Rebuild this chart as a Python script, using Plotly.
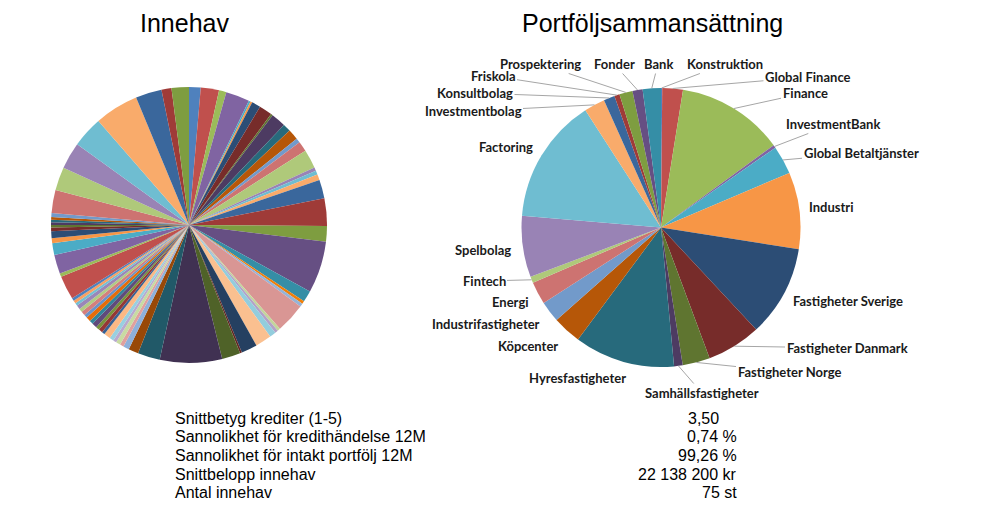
import math
import plotly.graph_objects as go

# ---------------- data ----------------
# Innehav: 75 holdings, share of portfolio in percent (clockwise from 12 o'clock)
holding_share = [
    1.36, 2.14, 0.86, 2.78, 0.22, 0.22, 1.03, 1.53, 0.22, 1.72,
    0.92, 1.25, 0.53, 1.19, 2.19, 0.42, 0.47, 0.67, 2.17, 3.22,
    1.83, 6.06, 1.33, 0.33, 0.39, 3.50, 0.33, 0.36, 0.75, 1.89,
    1.86, 0.22, 2.17, 7.28, 2.61, 1.17, 0.69, 0.44, 0.53, 0.39,
    0.50, 0.75, 0.36, 0.47, 0.42, 0.58, 0.44, 0.53, 0.39, 0.50,
    0.42, 0.47, 0.33, 0.36, 0.33, 2.78, 0.42, 2.22, 1.39, 0.56,
    0.83, 0.42, 0.28, 0.33, 0.28, 0.33, 0.47, 2.67, 2.75, 3.14,
    3.64, 5.14, 3.06, 1.17, 2.03,
]
holding_names = [f"Innehav {i + 1}" for i in range(len(holding_share))]

# Portföljsammansättning: sector shares in percent (clockwise from 12 o'clock)
sector_names = [
    "Konstruktion", "Global Finance", "Finance", "InvestmentBank",
    "Global Betaltjänster", "Industri", "Fastigheter Sverige",
    "Fastigheter Danmark", "Fastigheter Norge", "Samhällsfastigheter",
    "Hyresfastigheter", "Köpcenter", "Industrifastigheter", "Energi",
    "Fintech", "Spelbolag", "Factoring", "Investmentbolag", "Konsultbolag",
    "Friskola", "Prospektering", "Fonder", "Bank",
]
sector_share = [
    0.14, 2.39, 12.44, 0.33, 3.31, 8.89, 10.56, 6.28, 3.17, 1.00,
    11.64, 3.33, 2.44, 2.61, 0.72, 7.11, 14.53, 2.42, 1.28, 0.61,
    1.53, 1.17, 2.11,
]

stat_labels = [
    "Snittbetyg krediter (1-5)",
    "Sannolikhet för kredithändelse 12M",
    "Sannolikhet för intakt portfölj 12M",
    "Snittbelopp innehav",
    "Antal innehav",
]
stat_values = ["3,50\u00a0\u00a0\u00a0\u00a0", "0,74 %", "99,26 %", "22 138 200 kr", "75 st"]

# ---------------- styles ----------------
palette = [
    "#4F81BD", "#C0504D", "#9BBB59", "#8064A2", "#4BACC6", "#F79646",
    "#2C4D75", "#772C2A", "#5F7530", "#4D3B62", "#276A7C", "#B65708",
    "#729ACA", "#CD7371", "#AFC97A", "#9983B5", "#6FBDD1", "#F9AB6B",
    "#3A679C", "#9F3B38", "#7E9D40", "#664F83", "#358EA6", "#F07F09",
    "#95B3D7", "#D99694", "#C3D69B", "#B3A2C7", "#93CDDD", "#FAC090",
    "#254061", "#632523", "#4F6228", "#403152", "#215968", "#984807",
    "#8EB0DA", "#E0A09E", "#C8DBA2", "#B9A9CE", "#98D0E0", "#FBB985",
    "#376092", "#953735", "#77933C", "#604A7B", "#31859C", "#E46C0A",
    "#6A93C9", "#D47F7D", "#B2CB84", "#9A86B8", "#74BFD3", "#F8A062",
]
holding_colors = [palette[i % len(palette)] for i in range(len(holding_share))]
sector_colors = [palette[i % len(palette)] for i in range(len(sector_share))]

W, H = 1000, 527
LEFT_C, LEFT_R = (189.0, 225.0), 138.0
RIGHT_C, RIGHT_R = (661.0, 227.5), 139.5


def domain(c, r):
    return dict(x=[(c[0] - r) / W, (c[0] + r) / W],
                y=[1 - (c[1] + r) / H, 1 - (c[1] - r) / H])


fig = go.Figure()
fig.add_trace(go.Pie(
    labels=holding_names, values=holding_share, sort=False,
    direction="clockwise", rotation=0,
    marker=dict(colors=holding_colors, line=dict(width=0)),
    textinfo="none", showlegend=False, domain=domain(LEFT_C, LEFT_R),
))
fig.add_trace(go.Pie(
    labels=sector_names, values=sector_share, sort=False,
    direction="clockwise", rotation=0,
    marker=dict(colors=sector_colors, line=dict(width=0)),
    textinfo="none", showlegend=False, domain=domain(RIGHT_C, RIGHT_R),
))

# label placement (pixel centre of text, leader line?)
label_layout = {
    "Konstruktion": (725, 64, True),
    "Global Finance": (808, 77, True),
    "Finance": (805, 93, True),
    "InvestmentBank": (833, 124, True),
    "Global Betaltjänster": (861, 153, True),
    "Industri": (831, 207, False),
    "Fastigheter Sverige": (848, 301, False),
    "Fastigheter Danmark": (847, 348, True),
    "Fastigheter Norge": (789, 372, True),
    "Samhällsfastigheter": (702, 393, True),
    "Hyresfastigheter": (577, 378, False),
    "Köpcenter": (528, 346, False),
    "Industrifastigheter": (486, 324, False),
    "Energi": (510, 302, False),
    "Fintech": (484, 281, True),
    "Spelbolag": (483, 250, False),
    "Factoring": (506, 147, False),
    "Investmentbolag": (473, 111, True),
    "Konsultbolag": (475, 93, True),
    "Friskola": (493, 76, True),
    "Prospektering": (540, 64, True),
    "Fonder": (614, 64, True),
    "Bank": (658, 64, True),
}

label_font = dict(family="Lato", size=13, color="#1a1a1a")
annotations = []
total = sum(sector_share)
cum = 0.0
for name, val in zip(sector_names, sector_share):
    mid = (cum + val / 2) / total * 2 * math.pi
    cum += val
    tx, ty, leader = label_layout[name]
    if leader:
        hx = RIGHT_C[0] + RIGHT_R * math.sin(mid)
        hy = RIGHT_C[1] - RIGHT_R * math.cos(mid)
        annotations.append(dict(
            x=hx / W, y=1 - hy / H, xref="paper", yref="paper",
            ax=tx - hx, ay=ty - hy, showarrow=True, arrowhead=0,
            arrowwidth=1, arrowcolor="#a6a6a6", standoff=0,
            xanchor="center", yanchor="middle",
            text=f"<b>{name}</b>", font=label_font,
        ))
    else:
        annotations.append(dict(
            x=tx / W, y=1 - ty / H, xref="paper", yref="paper",
            xanchor="center", yanchor="middle",
            showarrow=False, text=f"<b>{name}</b>", font=label_font,
        ))

title_font = dict(family="Liberation Sans, Arial", size=25, color="#000000")
annotations.append(dict(x=184 / W, y=1 - 23 / H, xref="paper", yref="paper",
                        xanchor="center", yanchor="middle",
                        showarrow=False, text="Innehav", font=title_font))
annotations.append(dict(x=652 / W, y=1 - 23 / H, xref="paper", yref="paper",
                        xanchor="center", yanchor="middle",
                        showarrow=False, text="Portföljsammansättning", font=title_font))

stat_font = dict(family="Liberation Sans, Arial", size=16, color="#000000")
for i, (lab, v) in enumerate(zip(stat_labels, stat_values)):
    y = 418 + i * 18.7
    annotations.append(dict(x=173 / W, y=1 - y / H, xref="paper", yref="paper",
                            xanchor="left", yanchor="middle",
                            showarrow=False, text=lab, font=stat_font))
    annotations.append(dict(x=739 / W, y=1 - y / H, xref="paper", yref="paper",
                            xanchor="right", yanchor="middle",
                            showarrow=False, text=v, font=stat_font))

fig.update_layout(
    width=W, height=H, autosize=False,
    margin=dict(l=0, r=0, t=0, b=0),
    paper_bgcolor="white", plot_bgcolor="white",
    annotations=annotations,
)

fig.write_html(
    "out.html",
    config={"displayModeBar": False},
    post_script="document.body.style.margin='0';document.body.style.overflow='hidden';",
)
